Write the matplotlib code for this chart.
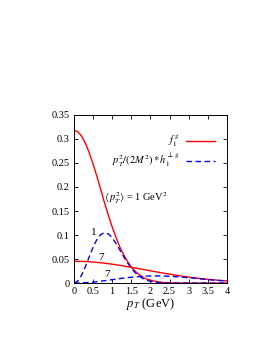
import numpy as np
import matplotlib
matplotlib.use("Agg")
import matplotlib.pyplot as plt
from matplotlib.ticker import FuncFormatter

plt.rcParams["font.family"] = ["Liberation Serif", "DejaVu Serif"]
plt.rcParams["mathtext.fontset"] = "stix"

# values
pt_1 = [0.0, 0.1, 0.2, 0.3, 0.4, 0.5, 0.6, 0.7, 0.8, 0.9, 1.0, 1.1, 1.2, 1.3,
        1.4, 1.5, 1.6, 1.7, 1.8, 1.9, 2.0, 2.2, 2.4, 2.6, 3.0, 3.5, 4.0]
f1_1 = [0.318, 0.315, 0.306, 0.291, 0.271, 0.248, 0.222, 0.195, 0.167, 0.141,
        0.117, 0.095, 0.075, 0.059, 0.045, 0.033, 0.025, 0.018, 0.012, 0.0086,
        0.0058, 0.0025, 0.001, 0.0004, 0.0, 0.0, 0.0]
h1_1 = [0.0, 0.0043, 0.0165, 0.0344, 0.0549, 0.0747, 0.0909, 0.1012, 0.1049,
        0.1023, 0.0943, 0.0826, 0.069, 0.0551, 0.0422, 0.031, 0.0219, 0.0149,
        0.0097, 0.0061, 0.0037, 0.0012, 0.0004, 0.0001, 0.0, 0.0, 0.0]

pt_7 = [0.0, 0.25, 0.5, 0.75, 1.0, 1.25, 1.5, 1.75, 2.0, 2.25, 2.5, 2.75,
        3.0, 3.25, 3.5, 3.75, 4.0]
f1_7 = [0.0455, 0.0451, 0.0439, 0.0419, 0.0394, 0.0363, 0.0328, 0.0293,
        0.0256, 0.022, 0.0186, 0.0154, 0.0125, 0.01, 0.0079, 0.0061, 0.0046]
h1_7 = [0.0, 0.00055, 0.0021, 0.0045, 0.0072, 0.0099, 0.0123, 0.014, 0.0149,
        0.0149, 0.0142, 0.0129, 0.0112, 0.0093, 0.0074, 0.0057, 0.0043]

fig = plt.figure(figsize=(2.66, 3.44), dpi=100)
ax = fig.add_axes([0.278, 0.177, 0.575, 0.489])

red = "#ff0000"
blue = "#0000ff"
ax.plot(pt_1, f1_1, color=red, lw=1.0, label=r"$f_1^{\,g}$")
ax.plot(pt_1, h1_1, color=blue, lw=1.0, dashes=(4, 2.5),
        label=r"$p_T^2/(2M^2) * h_1^{\perp\, g}$")
ax.plot(pt_7, f1_7, color=red, lw=1.0)
ax.plot(pt_7, h1_7, color=blue, lw=1.0, dashes=(4, 2.5))

ax.set_xlim(0, 4)
ax.set_ylim(0, 0.35)
ax.set_xticks(np.arange(0, 4.01, 0.5))
ax.set_yticks(np.arange(0, 0.351, 0.05))
ax.xaxis.set_major_formatter(FuncFormatter(lambda v, p: f"{v:g}"))
ax.yaxis.set_major_formatter(FuncFormatter(lambda v, p: f"{v:g}"))
ax.tick_params(direction="in", top=True, right=True, length=3, width=0.6,
               labelsize=7.5, pad=3)
for s in ax.spines.values():
    s.set_linewidth(0.7)

ax.set_xlabel(r"$p_T$ (GeV)", fontsize=9, labelpad=0)

ax.text(0.52, 0.106, "1", fontsize=8, ha="center", va="center")
ax.text(0.71, 0.054, "7", fontsize=8, ha="center", va="center")
ax.text(0.86, 0.017, "7", fontsize=8, ha="center", va="center")
ax.text(1.63, 0.177, r"$\langle\, p_T^2\rangle$ = 1 GeV$^2$", fontsize=7.5,
        ha="center", va="center")

ax.legend(loc="upper right", frameon=False, markerfirst=False, fontsize=7.5,
          handlelength=2.8, handletextpad=0.6, labelspacing=0.2,
          borderaxespad=0.3, bbox_to_anchor=(0.97, 0.93))

fig.savefig("out.png", dpi=100)
